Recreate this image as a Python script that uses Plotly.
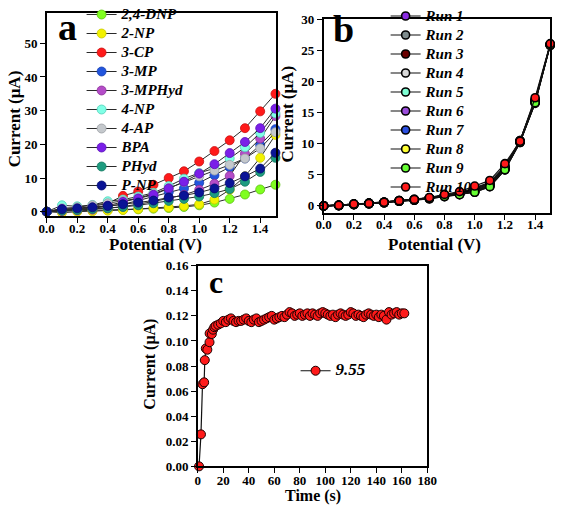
import plotly.graph_objects as go

W, H = 567, 523
SERIF = "Liberation Serif, Times New Roman, serif"

# ---------------- Panel a data ----------------
potential = [0.0, 0.1, 0.2, 0.3, 0.4, 0.5, 0.6, 0.7, 0.8, 0.9, 1.0, 1.1, 1.2, 1.3, 1.4, 1.5]
a_names = ["2,4-DNP", "2-NP", "3-CP", "3-MP", "3-MPHyd", "4-NP", "4-AP", "BPA", "PHyd", "P-NP"]
dnp24 = [0, 0.2, 0.3, 0.4, 0.5, 0.6, 0.7, 0.9, 1.1, 1.4, 1.9, 2.7, 3.8, 5.1, 6.6, 8.0]
np2 = [0, -0.3, 0.0, 0.1, 0.3, 0.5, 0.8, 1.1, 1.3, 1.7, 2.2, 3.6, 6.5, 10.5, 16.0, 22.8]
cp3 = [0, 0.5, 1.0, 1.5, 2.5, 4.7, 6.0, 8.0, 10.0, 12.0, 14.9, 18.0, 21.2, 24.8, 29.8, 35.0]
mp3 = [0, 0.5, 0.8, 1.0, 1.6, 2.2, 3.3, 4.5, 5.8, 6.9, 8.6, 10.8, 13.2, 15.8, 19.8, 24.5]
mphyd3 = [0, 0.2, 0.4, 0.6, 1.0, 1.5, 2.2, 3.0, 4.0, 5.0, 6.5, 8.3, 10.6, 17.2, 21.7, 28.4]
np4 = [0, 1.9, 1.6, 2.0, 3.1, 3.6, 4.5, 5.6, 7.6, 9.8, 11.5, 12.9, 15.8, 19.1, 23.4, 29.2]
ap4 = [0, 1.0, 1.3, 1.9, 2.5, 3.2, 4.0, 5.3, 7.0, 8.8, 10.5, 12.2, 13.9, 15.8, 18.8, 23.6]
bpa = [0, 0.8, 0.8, 1.2, 1.8, 2.9, 3.9, 5.0, 6.9, 8.9, 11.3, 14.1, 17.4, 20.7, 24.8, 30.6]
phyd = [0, 0.3, 0.5, 0.8, 1.0, 1.4, 1.9, 2.5, 3.2, 3.8, 4.5, 5.5, 6.7, 8.9, 11.8, 16.0]
pnp = [0, 0.7, 1.0, 1.3, 1.7, 2.2, 2.7, 3.3, 4.2, 4.8, 5.7, 6.9, 8.5, 10.5, 12.8, 17.5]
a_values = [dnp24, np2, cp3, mp3, mphyd3, np4, ap4, bpa, phyd, pnp]
a_colors = ["#80FF20", "#F2F200", "#FF1A1A", "#2255DD", "#B44CC8",
            "#80FFE6", "#C4C8CC", "#7A1FE8", "#1E9C80", "#0A1496"]
a_edge = ["#5CC010", "#C8C800", "#C81010", "#1840B0", "#8A3098",
          "#50D0B8", "#9CA0A4", "#5A10B8", "#157860", "#050C70"]

# ---------------- Panel b data ----------------
b_names = ["Run 1", "Run 2", "Run 3", "Run 4", "Run 5", "Run 6", "Run 7", "Run 8", "Run 9", "Run 10"]
run1 = [0, 0.10, 0.30, 0.40, 0.60, 0.80, 1.00, 1.30, 1.70, 2.00, 2.60, 3.60, 6.20, 10.4, 16.9, 26.0]
run2 = [0, 0.05, 0.25, 0.40, 0.55, 0.80, 1.00, 1.25, 1.60, 1.90, 2.50, 3.40, 6.00, 10.3, 16.8, 25.9]
run3 = [0, 0.10, 0.30, 0.45, 0.60, 0.85, 1.05, 1.30, 1.75, 2.10, 2.80, 3.70, 6.30, 10.5, 17.0, 26.0]
run4 = [0, 0.10, 0.20, 0.40, 0.55, 0.80, 0.95, 1.20, 1.60, 1.90, 2.40, 3.30, 5.90, 10.3, 16.7, 25.9]
run5 = [0, 0.05, 0.25, 0.35, 0.50, 0.75, 0.95, 1.20, 1.55, 1.85, 2.20, 3.10, 5.80, 10.2, 16.6, 25.8]
run6 = [0, 0.10, 0.30, 0.40, 0.60, 0.80, 1.00, 1.30, 1.70, 2.00, 2.70, 3.50, 6.10, 10.4, 16.9, 26.0]
run7 = [0, 0.10, 0.30, 0.40, 0.60, 0.85, 1.00, 1.30, 1.70, 2.10, 2.90, 3.80, 6.40, 10.5, 17.1, 26.0]
run8 = [0, 0.05, 0.20, 0.35, 0.50, 0.75, 0.95, 1.15, 1.50, 1.80, 2.30, 3.20, 5.90, 10.3, 16.5, 25.9]
run9 = [0, 0.05, 0.20, 0.35, 0.50, 0.75, 0.90, 1.15, 1.50, 1.80, 2.20, 3.10, 5.80, 10.2, 16.6, 25.9]
run10 = [0, 0.10, 0.30, 0.40, 0.60, 0.85, 1.05, 1.35, 1.85, 2.30, 3.20, 4.10, 6.80, 10.4, 17.4, 26.1]
b_values = [run1, run2, run3, run4, run5, run6, run7, run8, run9, run10]
b_colors = ["#8A2BE2", "#7F8C8D", "#6B0000", "#D8D8D8", "#7FFFD4",
            "#9B4DDB", "#2B4FE0", "#FFFF33", "#66FF33", "#FF1A1A"]

# ---------------- Panel c data ----------------
time_s = [1, 2.5, 3.7, 5, 5.5, 6.3, 7.5, 9.2, 9.3, 11, 12, 13,
          14, 16, 18, 20, 22, 24, 26, 28, 30, 32,
          34, 36, 38, 40, 42, 44, 46, 48, 50, 52,
          54, 56, 58, 60, 62, 64, 66, 68, 70, 72,
          74, 76, 78, 80, 82, 84, 86, 88, 90, 92,
          94, 96, 98, 100, 102, 104, 106, 108, 110, 112,
          114, 116, 118, 120, 122, 124, 126, 128, 130, 132,
          134, 136, 138, 140, 142, 144, 146, 148, 150, 152,
          154, 156, 158, 160, 162]
current_c = [0.000, 0.0255, 0.0655, 0.067, 0.0847, 0.094, 0.093, 0.099, 0.106, 0.1055, 0.109, 0.111,
             0.112, 0.113, 0.114, 0.116, 0.115, 0.117, 0.118, 0.116, 0.115, 0.116,
             0.116, 0.117, 0.118, 0.116, 0.115, 0.117, 0.118, 0.115, 0.116, 0.117,
             0.118, 0.119, 0.120, 0.117, 0.118, 0.119, 0.120, 0.119, 0.121, 0.123,
             0.122, 0.120, 0.121, 0.122, 0.120, 0.121, 0.122, 0.120, 0.122, 0.121,
             0.120, 0.122, 0.123, 0.122, 0.121, 0.120, 0.121, 0.119, 0.121, 0.122,
             0.121, 0.120, 0.121, 0.123, 0.122, 0.120, 0.121, 0.120, 0.119, 0.121,
             0.122, 0.121, 0.120, 0.121, 0.119, 0.121, 0.120, 0.117, 0.123, 0.121,
             0.122, 0.123, 0.121, 0.122, 0.122]
c_name = "9.55"

a_xticks = [0.0, 0.2, 0.4, 0.6, 0.8, 1.0, 1.2, 1.4]
a_yticks = [0, 10, 20, 30, 40, 50]
b_yticks = [0, 5, 10, 15, 20, 25, 30]
c_xticks = [0, 20, 40, 60, 80, 100, 120, 140, 160, 180]
c_yticks = [0.00, 0.02, 0.04, 0.06, 0.08, 0.10, 0.12, 0.14, 0.16]


def px_x(p):
    return p / W


def px_y(p):
    return 1 - p / H


fig = go.Figure()

for name, vals, col, edge in zip(a_names, a_values, a_colors, a_edge):
    fig.add_trace(go.Scatter(
        x=potential, y=vals, name=f'<span style="font-size:15px">{name}</span>',
        mode="lines+markers", xaxis="x", yaxis="y", legend="legend",
        line=dict(color="#2a2a2a", width=1),
        marker=dict(size=9, color=col, line=dict(color=edge, width=0.8)),
        cliponaxis=False))

for name, vals, col in zip(b_names, b_values, b_colors):
    fig.add_trace(go.Scatter(
        x=potential, y=vals, name=f'<span style="font-size:15px">{name}</span>',
        mode="lines+markers", xaxis="x2", yaxis="y2", legend="legend2",
        line=dict(color="#111111", width=1.2),
        marker=dict(size=8, color=col, line=dict(color="#000000", width=1.6)),
        cliponaxis=False))

fig.add_trace(go.Scatter(
    x=time_s, y=current_c, name=f'<span style="font-size:17px">{c_name}</span>',
    mode="lines+markers", xaxis="x3", yaxis="y3", legend="legend3",
    line=dict(color="#111111", width=1.2),
    marker=dict(size=9, color="#FF1A1A", line=dict(color="#1a0000", width=1)),
    cliponaxis=False))

tickfont = dict(family=SERIF, size=13, color="black", weight="bold")
axis_common = dict(showline=True, linecolor="black", linewidth=1.5, mirror=True,
                   ticks="outside", ticklen=5, tickwidth=1, tickcolor="black",
                   showgrid=False, zeroline=False, tickfont=tickfont)

legfont = dict(family=SERIF, size=12, color="black", weight="bold", style="italic")

fig.update_layout(
    width=W, height=H, autosize=False,
    margin=dict(l=0, r=0, t=0, b=0),
    paper_bgcolor="white", plot_bgcolor="white",
    xaxis=dict(domain=[px_x(40), px_x(277)], range=[0, 1.505], anchor="y",
               tickvals=a_xticks, tickformat=".1f", ticklabelstandoff=-6, **axis_common),
    yaxis=dict(domain=[px_y(211.7), px_y(0)], range=[-1.34, 59.0], anchor="x",
               tickvals=a_yticks, **axis_common),
    xaxis2=dict(domain=[px_x(326), px_x(560)], range=[0, 1.5], anchor="y2",
                tickvals=a_xticks, tickformat=".1f", ticklabelstandoff=-6, **axis_common),
    yaxis2=dict(domain=[px_y(208.3), px_y(6.7)], range=[-1.13, 30], anchor="x2",
                tickvals=b_yticks, **axis_common),
    xaxis3=dict(domain=[px_x(196), px_x(433)], range=[0, 180], anchor="y3",
                tickvals=c_xticks, ticklabelstandoff=-4, **axis_common),
    yaxis3=dict(domain=[px_y(472.3), px_y(263.3)], range=[0, 0.16], anchor="x3",
                tickvals=c_yticks, tickformat=".2f", **axis_common),
    legend=dict(x=px_x(76), y=px_y(-14), xanchor="left", yanchor="top",
                bgcolor="rgba(0,0,0,0)", font=legfont, tracegroupgap=0),
    legend2=dict(x=px_x(390), y=px_y(-12), xanchor="left", yanchor="top",
                 bgcolor="rgba(0,0,0,0)", font=legfont, tracegroupgap=0),
    legend3=dict(x=px_x(297), y=px_y(372.7), xanchor="left", yanchor="middle",
                 bgcolor="rgba(0,0,0,0)", font=legfont),
    showlegend=True,
)


def ann(text, x, y, size, angle=0, italic=False):
    fig.add_annotation(text=text, x=px_x(x), y=px_y(y), xref="paper", yref="paper",
                       showarrow=False, textangle=angle, xanchor="center", yanchor="middle",
                       font=dict(family=SERIF, size=size, color="black", weight="bold",
                                 style="italic" if italic else "normal"))


ann("a", 61, 15, 38)
ann("b", 346, 17, 38)
ann("c", 215, 280, 32)
ann("Current (μA)", 7, 110, 17, angle=-90)
ann("Potential (V)", 152, 241, 17)
ann("Current (μA)", 289, 105, 17, angle=-90)
ann("Potential (V)", 440, 241, 17)
ann("Current (μA)", 147, 366, 16, angle=-90)
ann("Time (s)", 315, 503, 16)

fig.write_html(
    "out.html",
    config={"displayModeBar": False},
    post_script="document.body.style.margin='0';document.documentElement.style.overflow='hidden';",
)
